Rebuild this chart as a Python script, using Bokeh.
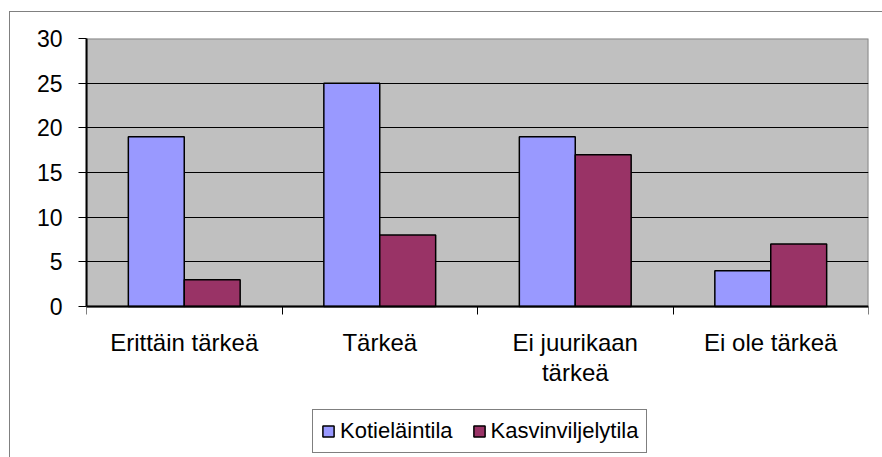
from bokeh.plotting import figure
from bokeh.models import (FixedTicker, Legend, LegendItem, Range1d, ColumnDataSource, InlineStyleSheet)
from bokeh.embed import file_html
from bokeh.resources import INLINE

categories = ["Erittäin tärkeä", "Tärkeä", "Ei juurikaan\ntärkeä", "Ei ole tärkeä"]
kotielaintila = [19, 25, 19, 4]
kasvinviljelytila = [3, 8, 17, 7]
series_names = ["Kotieläintila", "Kasvinviljelytila"]
y_ticks = [0, 5, 10, 15, 20, 25, 30]

BLUE = "#9999FF"
MAROON = "#993366"
FONT = "Liberation Sans"
bar_w = 0.286

n = len(categories)
centers = [i + 0.5 for i in range(n)]

# geometry (pixels): plot area 38..306 vertically, frame extends to the canvas bottom
W, H = 882, 457
top_px, axis_px = 38, 306
px_per_unit = (axis_px - top_px) / (y_ticks[-1] - y_ticks[0])
y_start = y_ticks[0] - (H - axis_px) / px_per_unit

p = figure(width=W, height=H, output_backend="svg", toolbar_location=None,
           x_range=Range1d(0, n), y_range=Range1d(y_start, y_ticks[-1]),
           min_border_left=86, min_border_top=top_px, min_border_right=14, min_border_bottom=0)
p.background_fill_color = "white"
p.border_fill_color = "white"
p.outline_line_color = None

# grey plot-area background
p.quad(left=[0], right=[n], bottom=[y_ticks[0]], top=[y_ticks[-1]],
       fill_color="#C0C0C0", line_color="#888888", line_width=2, level="image")

src1 = ColumnDataSource(dict(x=[c - bar_w / 2 for c in centers], top=kotielaintila))
src2 = ColumnDataSource(dict(x=[c + bar_w / 2 for c in centers], top=kasvinviljelytila))
r1 = p.vbar(x="x", top="top", bottom=0, width=bar_w, source=src1,
            fill_color=BLUE, line_color="black", line_width=1.5)
r2 = p.vbar(x="x", top="top", bottom=0, width=bar_w, source=src2,
            fill_color=MAROON, line_color="black", line_width=1.5)

# axes
xa = p.xaxis[0]
xa.fixed_location = 0
xa.ticker = FixedTicker(ticks=centers, minor_ticks=list(range(n + 1)))
xa.major_label_overrides = {c: lab for c, lab in zip(centers, categories)}
xa.major_tick_out = 0
xa.major_tick_in = 0
xa.minor_tick_out = 8
xa.minor_tick_in = 0
xa.minor_tick_line_color = "black"
xa.axis_line_color = "black"
xa.axis_line_width = 2
xa.major_label_text_font = FONT
xa.major_label_text_font_size = "24px"
xa.major_label_text_color = "black"
xa.major_label_standoff = 14
xa.major_label_text_line_height = 1.12

ya = p.yaxis[0]
ya.bounds = (y_ticks[0], y_ticks[-1])
ya.ticker = FixedTicker(ticks=y_ticks, minor_ticks=[])
ya.major_tick_out = 8
ya.major_tick_in = 0
ya.major_tick_line_color = "black"
ya.axis_line_color = "black"
ya.axis_line_width = 2
ya.major_label_text_font = FONT
ya.major_label_text_font_size = "23px"
ya.major_label_text_color = "black"
ya.major_label_standoff = 16

p.xgrid.visible = False
p.ygrid.ticker = FixedTicker(ticks=y_ticks[1:-1])
p.ygrid.grid_line_color = "black"
p.ygrid.grid_line_width = 1.2

legend = Legend(items=[LegendItem(label=series_names[0], renderers=[r1]),
                       LegendItem(label=series_names[1], renderers=[r2])],
                orientation="horizontal", location=(226, 4),
                border_line_color="black", border_line_width=1.2,
                background_fill_color="white", background_fill_alpha=1,
                padding=8, margin=0, spacing=19, label_standoff=5,
                glyph_width=14, glyph_height=14,
                label_text_font=FONT, label_text_font_size="22px",
                label_text_color="black")
p.add_layout(legend, "center")

# outer chart frame (left and top edges of the chart area, as in the reference)
p.stylesheets = [InlineStyleSheet(css="""
:host { position: relative; }
:host::after { content: ''; position: absolute; left: 9px; top: 11px; right: 0; bottom: 0;
  border-left: 1px solid #808080; border-top: 1px solid #808080; pointer-events: none; }
""")]

open("out.html", "w").write(file_html(p, INLINE))
